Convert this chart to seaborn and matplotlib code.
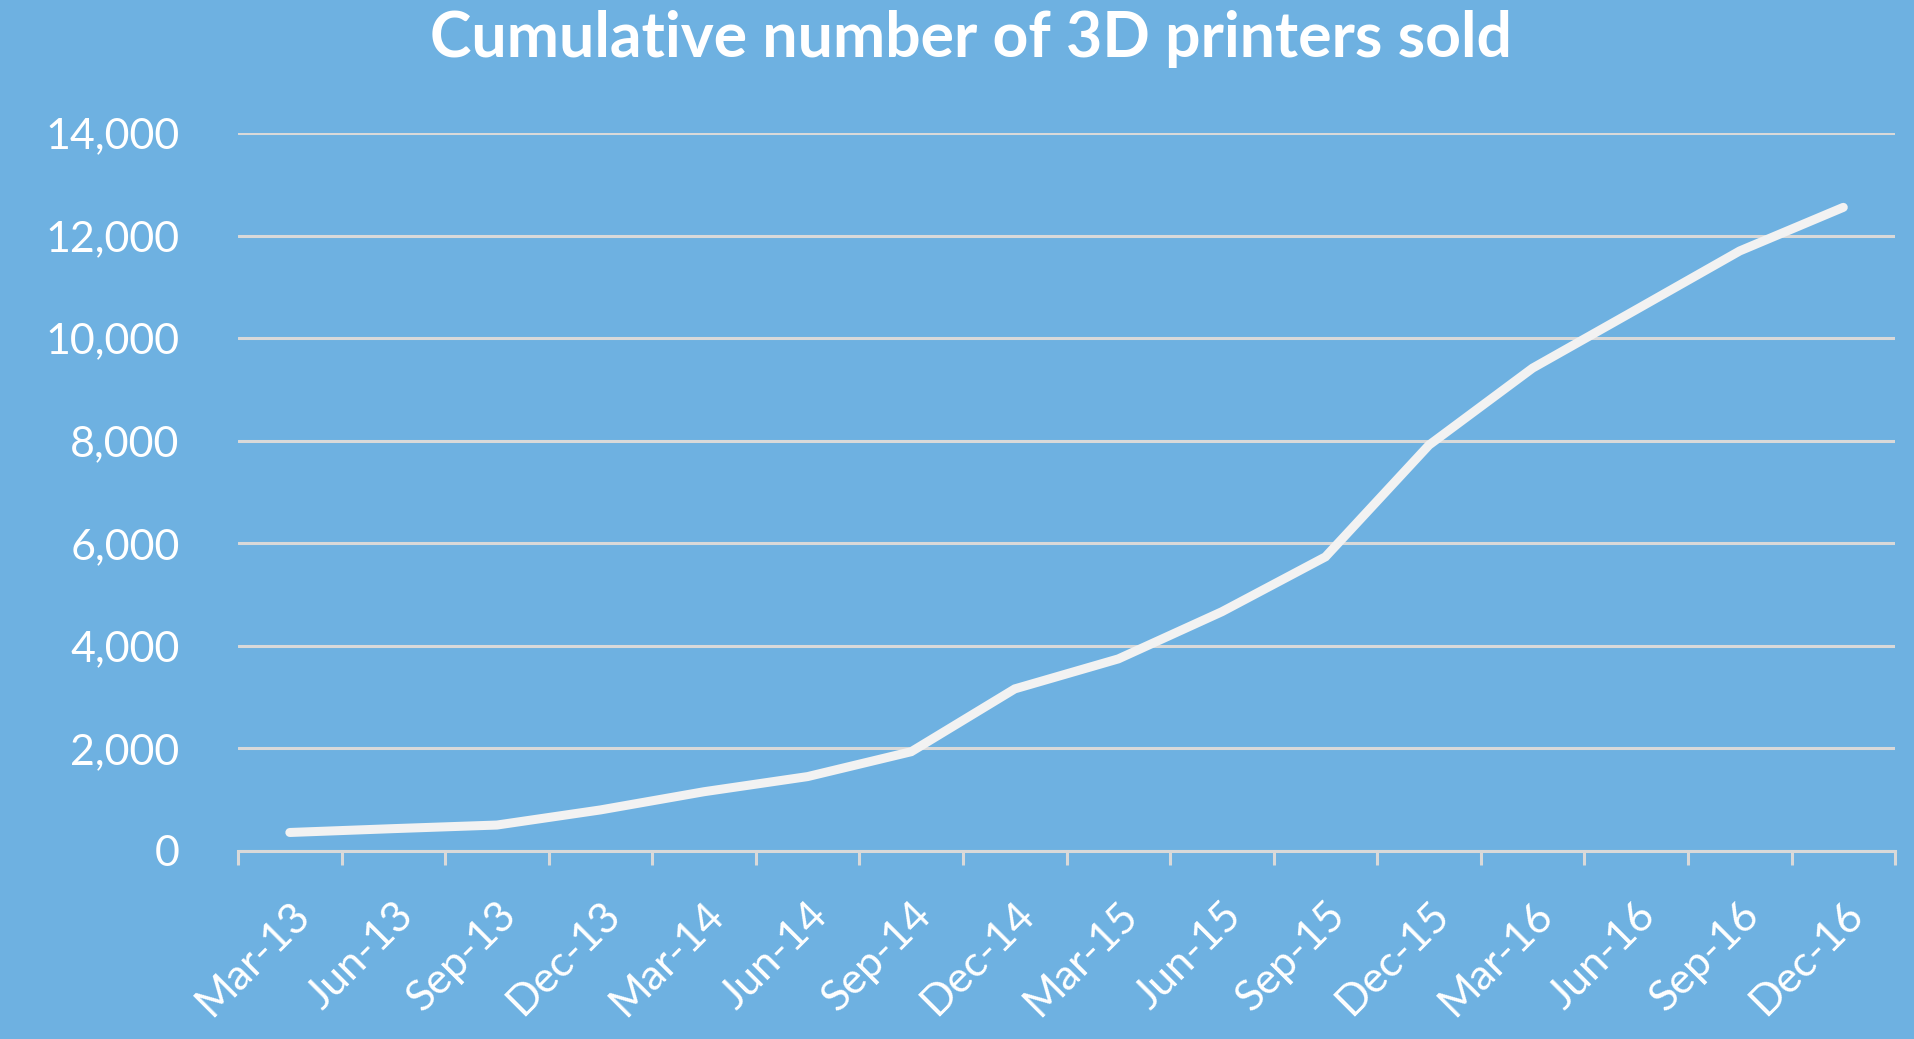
import numpy as np
import pandas as pd
import matplotlib
matplotlib.use("Agg")
import matplotlib.pyplot as plt
import seaborn as sns
from matplotlib.ticker import FixedLocator, FuncFormatter

# quarterly cumulative sales
quarters = ["Mar-13", "Jun-13", "Sep-13", "Dec-13", "Mar-14", "Jun-14", "Sep-14", "Dec-14",
            "Mar-15", "Jun-15", "Sep-15", "Dec-15", "Mar-16", "Jun-16", "Sep-16", "Dec-16"]
printers_sold = [360, 435, 505, 800, 1155, 1450, 1935, 3160,
                 3745, 4665, 5735, 7915, 9415, 10555, 11700, 12550]

df = pd.DataFrame({"quarter": quarters, "sold": printers_sold})

bg = "#6EB1E1"
grid_col = "#D9D9D9"

sns.set_style("white")
plt.rcParams["font.family"] = ["Lato", "DejaVu Sans"]

fig = plt.figure(figsize=(19.15, 10.39), dpi=100, facecolor=bg)
ax = fig.add_axes([0.1243, 0.181, 0.8653, 0.691])
ax.set_facecolor(bg)

sns.lineplot(data=df, x="quarter", y="sold", ax=ax, color="#F2F2F2",
             linewidth=6.5, sort=False)
ax.lines[0].set_solid_capstyle("round")
ax.lines[0].set_solid_joinstyle("miter")

ax.set_xlim(-0.5, len(quarters) - 0.5)
ax.set_ylim(0, 14000)
ax.set_yticks(np.arange(0, 14001, 2000))
ax.yaxis.set_major_formatter(FuncFormatter(lambda v, p: f"{int(v):,}"))
ax.yaxis.grid(True, color=grid_col, linewidth=2.2)
ax.set_axisbelow(True)

for s in ["top", "right", "left"]:
    ax.spines[s].set_visible(False)
ax.spines["bottom"].set_color(grid_col)
ax.spines["bottom"].set_linewidth(2.2)

ax.set_xticks(range(len(quarters)))
ax.set_xticklabels(quarters, rotation=45, ha="right", rotation_mode="anchor")
ax.xaxis.set_minor_locator(FixedLocator(np.arange(-0.5, len(quarters), 1)))
ax.tick_params(axis="x", which="major", bottom=False, length=0, pad=32,
               labelsize=31, labelcolor="white")
ax.tick_params(axis="x", which="minor", bottom=True, length=10, width=2.2,
               color=grid_col, direction="out")
ax.tick_params(axis="y", left=False, length=0, pad=42, labelsize=31, labelcolor="white")

ax.set_xlabel("")
ax.set_ylabel("")
fig.text(0.507, 0.962, "Cumulative number of 3D printers sold", ha="center", va="center",
         fontsize=45, fontweight="bold", color="white")

fig.savefig("out.png", dpi=100, facecolor=bg)
